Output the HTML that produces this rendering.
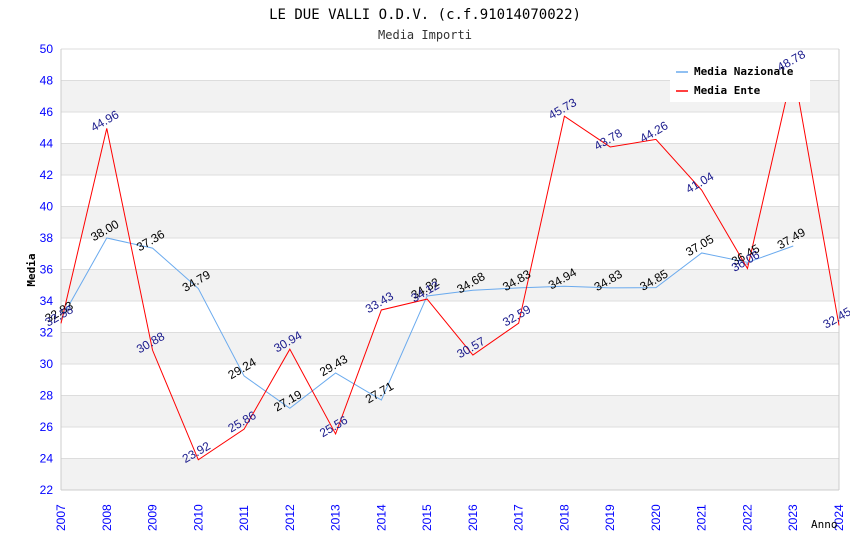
<!DOCTYPE html>
<html><head><meta charset="utf-8"><style>
body{margin:0;background:#fff}
svg{display:block}
</style></head><body>
<svg id="chart" width="850" height="550" xmlns="http://www.w3.org/2000/svg">
<text x="425" y="19" text-anchor="middle" font-family="'DejaVu Sans Mono',monospace" font-size="14">LE DUE VALLI O.D.V. (c.f.91014070022)</text>
<text x="425" y="39" text-anchor="middle" font-family="'DejaVu Sans Mono',monospace" font-size="12" fill="#333">Media Importi</text>
<g id="bands"></g><g id="grid"></g><g id="axes"></g><g id="series"></g>
<text transform="translate(35,270) rotate(-90)" text-anchor="middle" font-family="'DejaVu Sans Mono',monospace" font-size="11" font-weight="bold">Media</text>
<text x="811" y="528" font-family="'DejaVu Sans Mono',monospace" font-size="11">Anno</text>
<g>
<rect x="670" y="60" width="140" height="42" fill="#fff"/>
<line x1="676" y1="72" x2="688" y2="72" stroke="#6aaaee" stroke-width="1.5"/>
<text x="694" y="75" font-family="'DejaVu Sans Mono',monospace" font-size="11" font-weight="bold">Media Nazionale</text>
<line x1="676" y1="91" x2="688" y2="91" stroke="#f00" stroke-width="1.5"/>
<text x="694" y="94" font-family="'DejaVu Sans Mono',monospace" font-size="11" font-weight="bold">Media Ente</text>
</g>
<g id="labels"></g>
</svg>
<script>
const years=[2007,2008,2009,2010,2011,2012,2013,2014,2015,2016,2017,2018,2019,2020,2021,2022,2023,2024];
const nazionale=[32.83,38.00,37.36,34.79,29.24,27.19,29.43,27.71,34.32,34.68,34.83,34.94,34.83,34.85,37.05,36.45,37.49,null];
const ente=[32.58,44.96,30.88,23.92,25.86,30.94,25.56,33.43,34.12,30.57,32.59,45.73,43.78,44.26,41.04,36.06,48.78,32.45];
const yTicks=[22,24,26,28,30,32,34,36,38,40,42,44,46,48,50];
const NS='http://www.w3.org/2000/svg';
const X0=61,X1=839,Y0=490,Y1=49,ymin=22,ymax=50;
const xs=i=>X0+(X1-X0)*(years[i]-years[0])/(years[years.length-1]-years[0]);
const ys=v=>Y0-(Y0-Y1)*(v-ymin)/(ymax-ymin);
function mk(t,a,p){const e=document.createElementNS(NS,t);for(const k in a)e.setAttribute(k,a[k]);document.getElementById(p).appendChild(e);return e;}
for(let i=0;i<yTicks.length-1;i++){
 if(i%2===0){const r=mk('rect',{x:X0,y:ys(yTicks[i+1]),width:X1-X0,height:ys(yTicks[i])-ys(yTicks[i+1]),fill:'#f2f2f2'},'bands');
 
 }
}
yTicks.forEach(v=>{
 const l=mk('line',{x1:X0,x2:X1,y1:ys(v),y2:ys(v),stroke:'#ddd'},'grid');
 
 
 const t=mk('text',{x:X0-8,y:ys(v)+4,'text-anchor':'end','font-family':'Liberation Sans,sans-serif','font-size':'12',fill:'#00f'},'axes');
 t.textContent=v;
 
 
});
mk('line',{x1:X0,x2:X0,y1:Y1,y2:Y0,stroke:'#ccc'},'axes');
mk('line',{x1:X1,x2:X1,y1:Y1,y2:Y0,stroke:'#ccc'},'axes');
mk('line',{x1:X0,x2:X1,y1:Y0,y2:Y0,stroke:'#ccc'},'axes');
years.forEach((y,i)=>{
 const t=mk('text',{transform:`translate(${xs(i)+4},${Y0+41}) rotate(-90)`,'font-family':'Liberation Sans,sans-serif','font-size':'12',fill:'#00f'},'axes');
 t.textContent=y;
 
 
});
function series(arr,color,lc,name){
 const pts=[];arr.forEach((v,i)=>{if(v!==null)pts.push(xs(i)+','+ys(v));});
 const p=mk('polyline',{points:pts.join(' '),fill:'none',stroke:color,'stroke-width':1},'series');
 
 
 arr.forEach((v,i)=>{if(v===null)return;
  const t=mk('text',{transform:`translate(${xs(i)},${ys(v)-4}) rotate(-30)`,'text-anchor':'middle','font-family':'Liberation Sans,sans-serif','font-size':'12',fill:lc},'labels');
  t.textContent=v.toFixed(2);
  
  
 });
}
series(nazionale,'#6aaaee','#000','nazionale');
series(ente,'#f00','#1a1a8c','ente');
</script>
</body></html>
